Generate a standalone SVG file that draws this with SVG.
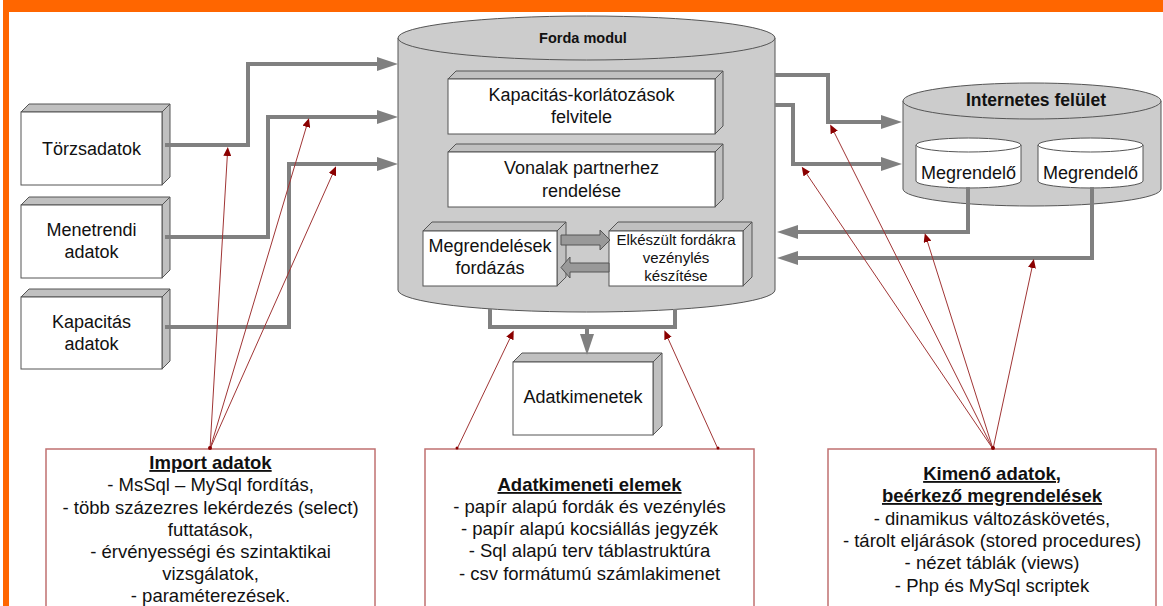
<svg xmlns="http://www.w3.org/2000/svg" width="1163" height="606" viewBox="0 0 1163 606">
  <defs>
    <marker id="gray-arrow" markerUnits="userSpaceOnUse" markerWidth="22" markerHeight="16" refX="9" refY="8" orient="auto">
      <path d="M0,1 L21,8 L0,15 Z" fill="#808080"/>
    </marker>
    <marker id="red-arrow" markerUnits="userSpaceOnUse" markerWidth="10" markerHeight="8" refX="5" refY="4" orient="auto">
      <path d="M0,0 L9,4 L0,8 Z" fill="#8b0000"/>
    </marker>
    <style>
      .front{fill:#fff;stroke:#555;stroke-width:1}
      .face{fill:#c0c0c0;stroke:#555;stroke-width:1;stroke-linejoin:round}
      .cyl{fill:#cccccc;stroke:#555;stroke-width:1}
      .mini{fill:#fff;stroke:#555;stroke-width:1}
      .lbl{font-family:"Liberation Sans",Arial,sans-serif;font-size:18px;fill:#111;text-anchor:middle}
      .note-text{font-size:18.5px}
      .small{font-size:15px}
      .head{font-weight:bold}
      .title{font-weight:bold;text-decoration:underline}
      .flow{fill:none;stroke:#808080;stroke-width:4;stroke-linejoin:miter}
      .arrowed{marker-end:url(#gray-arrow)}
      .note{fill:none;stroke:#a03535;stroke-width:1;marker-end:url(#red-arrow)}
      .origin{fill:#8b0000}
      .notebox{fill:#fff;stroke:#c07070;stroke-width:1.5}
      .block{fill:#999;stroke:#555;stroke-width:1}
    </style>
  </defs>

  <rect width="1163" height="606" fill="#fff"/>
  <!-- page frame -->
  <rect x="3" y="0" width="1160" height="12" fill="#ff6600"/>
  <rect x="3" y="0" width="6" height="606" fill="#ff6600"/>

  <!-- source data boxes -->
  <g id="torzsadatok">
    <polygon class="face" points="21,112 29,104 170,104 162,112"/>
    <polygon class="face" points="162,112 170,104 170,177 162,185"/>
    <rect class="front" x="21" y="112" width="141" height="73"/>
    <text class="lbl" x="91.5" y="155">Törzsadatok</text>
  </g>
  <g id="menetrendi">
    <polygon class="face" points="21,205 29,197 170,197 162,205"/>
    <polygon class="face" points="162,205 170,197 170,270 162,278"/>
    <rect class="front" x="21" y="205" width="141" height="73"/>
    <text class="lbl" x="91.5" y="236">Menetrendi</text>
    <text class="lbl" x="91.5" y="258">adatok</text>
  </g>
  <g id="kapacitas">
    <polygon class="face" points="21,297 29,289 170,289 162,297"/>
    <polygon class="face" points="162,297 170,289 170,361 162,369"/>
    <rect class="front" x="21" y="297" width="141" height="72"/>
    <text class="lbl" x="91.5" y="328">Kapacitás</text>
    <text class="lbl" x="91.5" y="350">adatok</text>
  </g>

  <!-- main module cylinder -->
  <g id="forda-modul">
    <path class="cyl" d="M398,38 V290 A188.5,22 0 0 0 775,290 V38 Z"/>
    <ellipse class="cyl" cx="586.5" cy="38" rx="188.5" ry="22"/>
    <text class="lbl head" x="583" y="43" style="font-size:14.5px">Forda modul</text>
  </g>
  <g id="kapacitas-korlatozasok">
    <polygon class="face" points="448,79 456,71 723,71 715,79"/>
    <polygon class="face" points="715,79 723,71 723,126 715,134"/>
    <rect class="front" x="448" y="79" width="267" height="55"/>
    <text class="lbl" x="581.5" y="101">Kapacitás-korlátozások</text>
    <text class="lbl" x="581.5" y="123">felvitele</text>
  </g>
  <g id="vonalak">
    <polygon class="face" points="448,152 456,144 723,144 715,152"/>
    <polygon class="face" points="715,152 723,144 723,199 715,207"/>
    <rect class="front" x="448" y="152" width="267" height="55"/>
    <text class="lbl" x="581.5" y="174">Vonalak partnerhez</text>
    <text class="lbl" x="581.5" y="197">rendelése</text>
  </g>
  <g id="megrendelesek-fordazas">
    <polygon class="face" points="423,231 432,222 566,222 557,231"/>
    <polygon class="face" points="557,231 566,222 566,277 557,286"/>
    <rect class="front" x="423" y="231" width="134" height="55"/>
    <text class="lbl" x="490" y="252">Megrendelések</text>
    <text class="lbl" x="490" y="274">fordázás</text>
  </g>
  <g id="vezenyles">
    <polygon class="face" points="609,231 618,222 752,222 743,231"/>
    <polygon class="face" points="743,231 752,222 752,277 743,286"/>
    <rect class="front" x="609" y="231" width="134" height="55"/>
    <text class="lbl small" x="676" y="244.5">Elkészült fordákra</text>
    <text class="lbl small" x="676" y="263">vezénylés</text>
    <text class="lbl small" x="676" y="281">készítése</text>
  </g>
  <!-- block arrows between the two inner steps -->
  <g id="block-arrows">
    <path class="block" d="M561,235 H600 V230 L610,240 L600,250 V245 H561 Z"/>
    <path class="block" d="M609,263 H570 V257 L561,267.5 L570,278 V272 H609 Z"/>
  </g>

  <!-- web interface cylinder -->
  <g id="internetes-felulet">
    <path class="cyl" d="M903,101 V189 A129,17 0 0 0 1161,189 V101 Z"/>
    <ellipse class="cyl" cx="1032" cy="101" rx="129" ry="18"/>
    <text class="lbl head" x="1036" y="106" style="font-size:17.5px">Internetes felület</text>
  </g>
  <g id="megrendelo-1">
    <path class="mini" d="M916,145 V181 A52.5,7 0 0 0 1021,181 V145 Z"/>
    <ellipse class="mini" cx="968.5" cy="145" rx="52.5" ry="7"/>
    <text class="lbl" x="968.5" y="179">Megrendelő</text>
  </g>
  <g id="megrendelo-2">
    <path class="mini" d="M1038,145 V181 A52.5,7 0 0 0 1143,181 V145 Z"/>
    <ellipse class="mini" cx="1090.5" cy="145" rx="52.5" ry="7"/>
    <text class="lbl" x="1090.5" y="179">Megrendelő</text>
  </g>

  <!-- output box -->
  <g id="adatkimenetek">
    <polygon class="face" points="513,362 522,353 662,353 653,362"/>
    <polygon class="face" points="653,362 662,353 662,426 653,435"/>
    <rect class="front" x="513" y="362" width="140" height="73"/>
    <text class="lbl" x="583" y="403">Adatkimenetek</text>
  </g>

  <!-- annotation boxes -->
  <g id="import-adatok">
    <rect class="notebox" x="46" y="449" width="329" height="175"/>
    <text class="lbl note-text title" x="210.5" y="469">Import adatok</text>
    <text class="lbl note-text" x="210.5" y="491">- MsSql – MySql fordítás,</text>
    <text class="lbl note-text" x="210.5" y="514">- több százezres lekérdezés (select)</text>
    <text class="lbl note-text" x="210.5" y="536">futtatások,</text>
    <text class="lbl note-text" x="210.5" y="558">- érvényességi és szintaktikai</text>
    <text class="lbl note-text" x="210.5" y="580">vizsgálatok,</text>
    <text class="lbl note-text" x="210.5" y="602">- paraméterezések.</text>
  </g>
  <g id="adatkimeneti-elemek">
    <rect class="notebox" x="425" y="449" width="329" height="175"/>
    <text class="lbl note-text title" x="589.5" y="491">Adatkimeneti elemek</text>
    <text class="lbl note-text" x="589.5" y="513">- papír alapú fordák és vezénylés</text>
    <text class="lbl note-text" x="589.5" y="535">- papír alapú kocsiállás jegyzék</text>
    <text class="lbl note-text" x="589.5" y="557">- Sql alapú terv táblastruktúra</text>
    <text class="lbl note-text" x="589.5" y="580">- csv formátumú számlakimenet</text>
  </g>
  <g id="kimeno-adatok">
    <rect class="notebox" x="828" y="449" width="328" height="175"/>
    <text class="lbl note-text title" x="992" y="480">Kimenő adatok,</text>
    <text class="lbl note-text title" x="992" y="502">beérkező megrendelések</text>
    <text class="lbl note-text" x="992" y="525">- dinamikus változáskövetés,</text>
    <text class="lbl note-text" x="992" y="547">- tárolt eljárások (stored procedures)</text>
    <text class="lbl note-text" x="992" y="569">- nézet táblák (views)</text>
    <text class="lbl note-text" x="992" y="592">- Php és MySql scriptek</text>
  </g>

  <!-- connectors -->
  <g id="connectors">
    <path class="flow arrowed" d="M165,145 H248 V64 H386"/>
    <path class="flow arrowed" d="M165,237 H268 V117 H386"/>
    <path class="flow arrowed" d="M165,327 H289 V164 H386"/>
    <path class="flow arrowed" d="M775,75 H828 V122 H890"/>
    <path class="flow arrowed" d="M775,105 H793 V164 H890"/>
    <path class="flow arrowed" d="M968,187 V232 H789"/>
    <path class="flow arrowed" d="M1092,187 V258 H789"/>
    <path class="flow" d="M490,309 V327 H675 V309"/>
    <path class="flow arrowed" d="M587,327 V343"/>

    <path class="note" d="M210,449 L227.6,151"/>
    <path class="note" d="M210,449 L307.8,122"/>
    <path class="note" d="M210,449 L334.4,170"/>
    <path class="note" d="M457,449 L512,334"/>
    <path class="note" d="M718,449 L666,334"/>
    <path class="note" d="M993,449 L832,128"/>
    <path class="note" d="M993,449 L804,170"/>
    <path class="note" d="M993,449 L926,237"/>
    <path class="note" d="M993,449 L1033,263"/>
    <circle class="origin" cx="210" cy="448" r="2"/>
    <circle class="origin" cx="457" cy="448" r="1.5"/>
    <circle class="origin" cx="718" cy="448" r="1.5"/>
    <circle class="origin" cx="993" cy="448" r="2"/>
  </g>
</svg>
